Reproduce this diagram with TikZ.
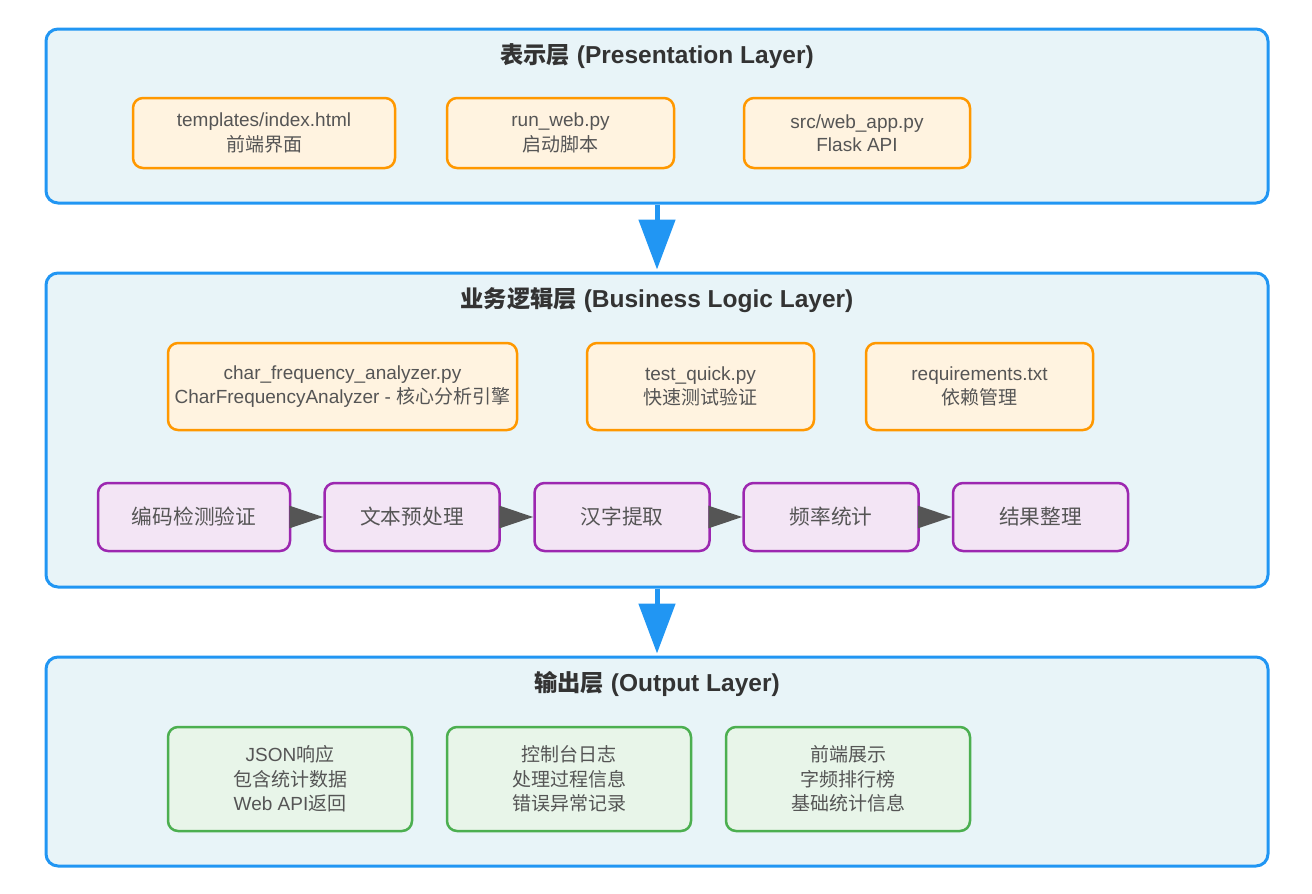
\documentclass[tikz,border=0pt]{standalone}
\usepackage{fontspec}
\setmainfont{Liberation Sans}
\newfontfamily\cjk{Noto Sans CJK SC}
\newfontfamily\cjkt[Scale=0.95]{Noto Sans CJK SC}
\newcommand{\zh}[1]{{\cjk #1}}
\newcommand{\zht}[1]{{\cjkt\bfseries #1}}
\usetikzlibrary{arrows.meta}
\definecolor{layerfill}{HTML}{E8F4F8}
\definecolor{layerdraw}{HTML}{2196F3}
\definecolor{orfill}{HTML}{FFF3E0}
\definecolor{ordraw}{HTML}{FF9800}
\definecolor{pufill}{HTML}{F3E5F5}
\definecolor{pudraw}{HTML}{9C27B0}
\definecolor{grfill}{HTML}{E8F5E9}
\definecolor{grdraw}{HTML}{4CAF50}
\definecolor{txt}{HTML}{555555}
\definecolor{ttl}{HTML}{333333}
\definecolor{flow}{HTML}{555555}
\tikzset{
  layer/.style={draw=layerdraw, fill=layerfill, line width=3pt, rounded corners=12pt, minimum width=1222pt, inner sep=0pt},
  ttlstyle/.style={text=ttl, font=\fontsize{24.5}{28}\selectfont\bfseries, inner sep=0pt},
  box/.style={line width=2.5pt, rounded corners=10pt, inner sep=0pt, align=center, text=txt, font=\fontsize{19}{24.5}\selectfont},
  obox/.style={box, draw=ordraw, fill=orfill, minimum height=70pt},
  pbox/.style={box, draw=pudraw, fill=pufill, minimum height=68pt, minimum width=175pt, font=\fontsize{20.7}{25}\selectfont},
  gbox/.style={box, draw=grdraw, fill=grfill, minimum height=104pt, minimum width=244pt},
  bigarrow/.style={draw=layerdraw, line width=5pt, -{Triangle[length=50pt,width=36pt]}},
  flowarrow/.style={draw=flow, line width=3pt, -{Triangle[length=34pt,width=22pt]}}
}
\begin{document}
\begin{tikzpicture}[x=1pt,y=-1pt]
\useasboundingbox (0,0) rectangle (1312,894);
% layers
\node[layer, minimum height=174pt] (L1) at (657,116) {};
\node[layer, minimum height=314pt] (L2) at (657,430) {};
\node[layer, minimum height=209pt] (L3) at (657,761.5) {};
\node[ttlstyle] (T1) at (657,56) {\zht{表示层} (Presentation Layer)};
\node[ttlstyle] (T2) at (657,300) {\zht{业务逻辑层} (Business Logic Layer)};
\node[ttlstyle] (T3) at (657,684) {\zht{输出层} (Output Layer)};
% presentation
\node[obox, minimum width=262pt] (p1) at (264,133) {\raisebox{-3pt}{\shortstack{templates/index.html\\[2pt]\zh{前端界面}}}};
\node[obox, minimum width=227pt] (p2) at (560.5,133) {\raisebox{-3pt}{\shortstack{run\_web.py\\[2pt]\zh{启动脚本}}}};
\node[obox, minimum width=226pt] (p3) at (857,133) {\raisebox{-3pt}{\shortstack{src/web\_app.py\\[2pt]Flask API}}};
% business
\node[obox, minimum width=349pt, minimum height=87pt] (b1) at (342.5,386.5) {char\_frequency\_analyzer.py\\CharFrequencyAnalyzer - \zh{核心分析引擎}};
\node[obox, minimum width=227pt, minimum height=87pt] (b2) at (700.5,386.5) {test\_quick.py\\\zh{快速测试验证}};
\node[obox, minimum width=227pt, minimum height=87pt] (b3) at (979.5,386.5) {requirements.txt\\\zh{依赖管理}};
\node[pbox, minimum width=192pt] (s1) at (194,517) {\zh{编码检测验证}};
\node[pbox] (s2) at (412,517) {\zh{文本预处理}};
\node[pbox] (s3) at (622,517) {\zh{汉字提取}};
\node[pbox] (s4) at (831,517) {\zh{频率统计}};
\node[pbox] (s5) at (1040.5,517) {\zh{结果整理}};
\draw[flowarrow] (s1.east) -- (s2.west);
\draw[flowarrow] (s2.east) -- (s3.west);
\draw[flowarrow] (s3.east) -- (s4.west);
\draw[flowarrow] (s4.east) -- (s5.west);
% output
\node[gbox] (o1) at (290,779) {JSON\zh{响应}\\\zh{包含统计数据}\\Web API\zh{返回}};
\node[gbox] (o2) at (569,779) {\zh{控制台日志}\\\zh{处理过程信息}\\\zh{错误异常记录}};
\node[gbox] (o3) at (848,779) {\zh{前端展示}\\\zh{字频排行榜}\\\zh{基础统计信息}};
% layer arrows
\draw[bigarrow] (L1.south) -- ([yshift=2pt]L2.north);
\draw[bigarrow] (L2.south) -- ([yshift=2pt]L3.north);
\end{tikzpicture}
\end{document}
